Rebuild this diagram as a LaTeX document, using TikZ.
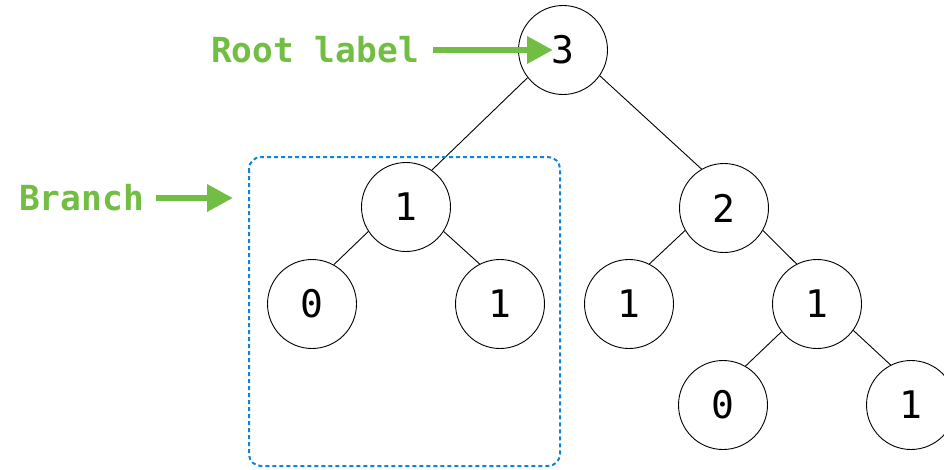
\documentclass[tikz,border=0pt]{standalone}
\usepackage{fontspec}
\usepackage{tikz}
\usetikzlibrary{arrows.meta}
\newfontfamily\treefont{DejaVu Sans Mono}
\definecolor{labelgreen}{RGB}{114,190,68}
\definecolor{branchblue}{RGB}{18,130,214}
\tikzset{tnode/.style = {circle, draw, line width=0.9pt, minimum size=89pt, inner sep=0pt,
                         font=\treefont\fontsize{38}{44}\selectfont},
         edge/.style = {line width=0.9pt},
         lbl/.style = {text=labelgreen, inner sep=0pt, anchor=east,
                       font=\treefont\bfseries\fontsize{34.5}{40}\selectfont},
         greenarrow/.style = {draw=labelgreen, line width=6.5pt,
                              -{Triangle[length=26pt, width=26pt]}, labelgreen}}

\begin{document}
\begin{tikzpicture}[x=1pt, y=-1pt]
    \useasboundingbox (0, 0) rectangle (944, 469);

    % the tree
    \node [tnode] (root) at (563, 50) {3};
    \node [tnode] (l) at (406, 207) {1};
    \node [tnode] (r) at (724, 208) {2};
    \node [tnode] (ll) at (312, 304) {0};
    \node [tnode] (lr) at (500, 304) {1};
    \node [tnode] (rl) at (629, 304) {1};
    \node [tnode] (rr) at (817, 304) {1};
    \node [tnode] (rrl) at (723, 405) {0};
    \node [tnode] (rrr) at (911, 405) {1};

    \draw [edge] (root.218) -- (l.55);
    \draw [edge] (root.325) -- (r.120);
    \draw [edge] (l.213) -- (ll.61);
    \draw [edge] (l.327) -- (lr.117);
    \draw [edge] (r.210) -- (rl.63);
    \draw [edge] (r.330) -- (rr.117);
    \draw [edge] (rr.218) -- (rrl.60);
    \draw [edge] (rr.324) -- (rrr.117);

    % branch box
    \draw [branchblue, line width=2pt, dash pattern=on 4pt off 3pt, rounded corners=12pt]
        (249, 157) rectangle (560, 466);

    % labels
    \node [lbl] (rootlbl) at (419, 50) {Root label};
    \coordinate (roottip) at (553, 50);
    \draw [greenarrow] ([xshift=14pt]rootlbl.east) -- (roottip);

    \node [lbl] (branchlbl) at (144, 198) {Branch};
    \coordinate (branchtip) at (233, 198);
    \draw [greenarrow] ([xshift=12pt]branchlbl.east) -- (branchtip);
\end{tikzpicture}
\end{document}
